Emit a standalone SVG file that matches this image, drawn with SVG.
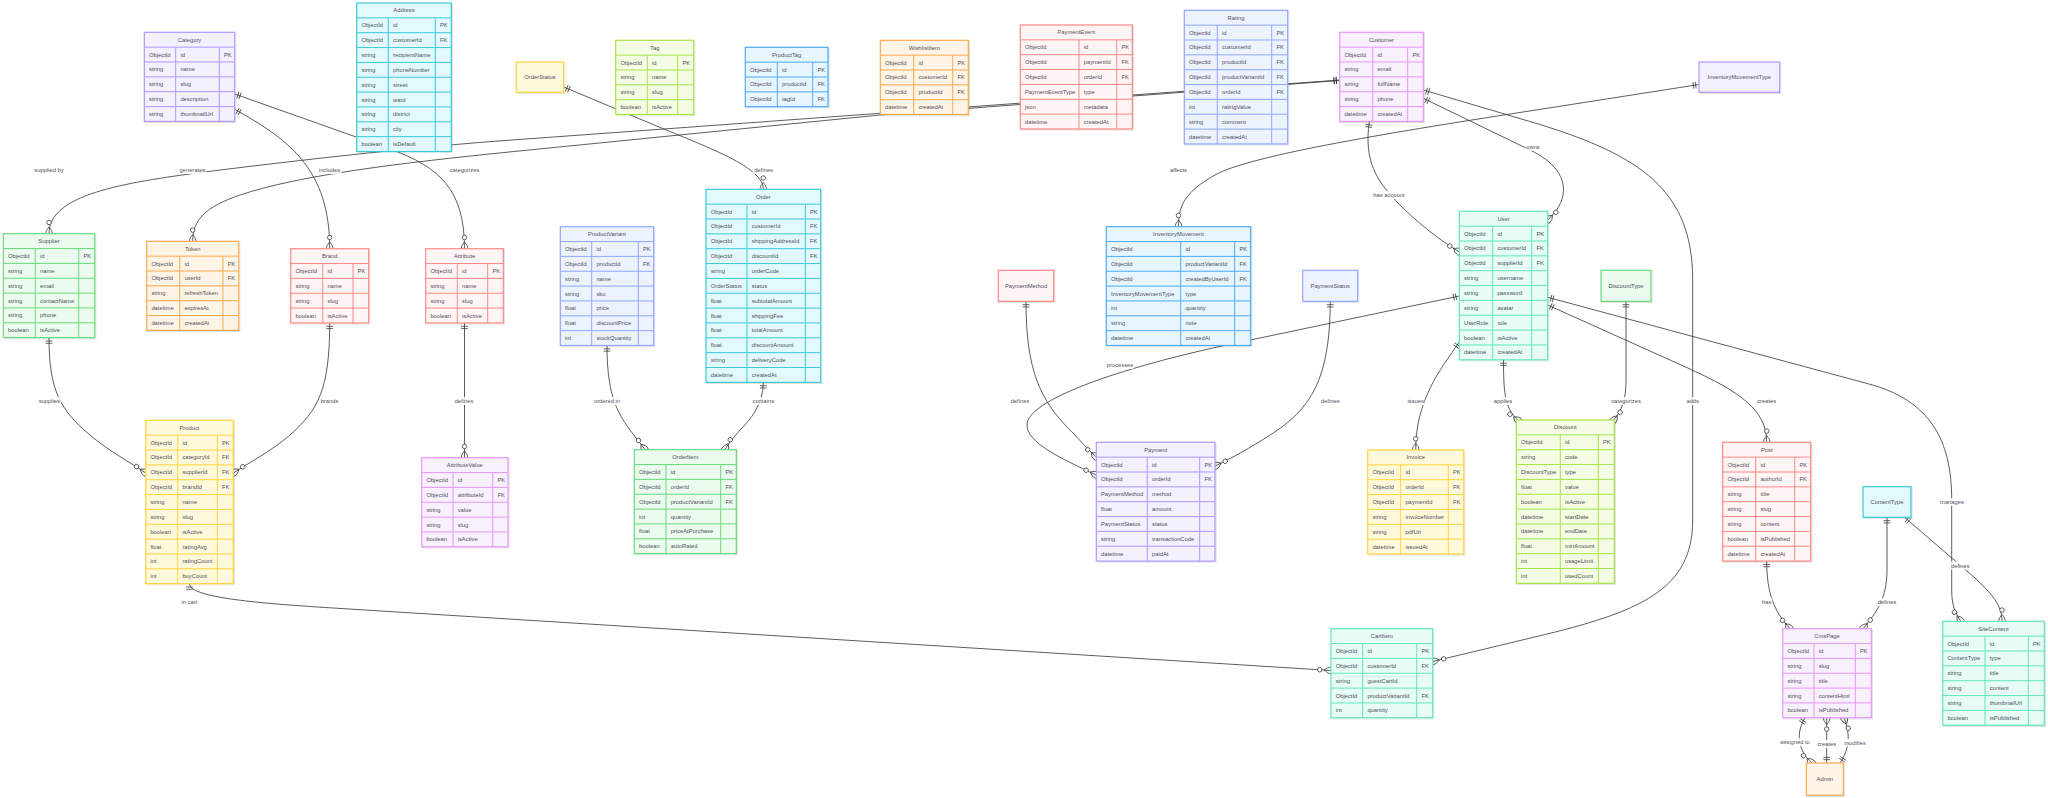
<svg xmlns="http://www.w3.org/2000/svg" width="2048" height="798" viewBox="0 0 2048 798">
<style>
.e text{font-family:"Liberation Sans",Arial,sans-serif;font-size:5.8px;fill:#4f4f5c;dominant-baseline:central}
.e .h{text-anchor:middle}
.e rect{stroke-width:1.2;filter:url(#sh)}
.e path{fill:none;stroke-width:1}
.purple rect{fill:#f3f0ff}.purple rect,.purple path{stroke:#b197fc}
.cyan rect{fill:#e3fafc}.cyan rect,.cyan path{stroke:#3bc9db}
.green rect{fill:#ebfbee}.green rect,.green path{stroke:#69db7c}
.orange rect{fill:#fff4e6}.orange rect,.orange path{stroke:#ffa94d}
.red rect{fill:#fff5f5}.red rect,.red path{stroke:#ff8787}
.yellow rect{fill:#fff9db}.yellow rect,.yellow path{stroke:#ffd43b}
.lime rect{fill:#f4fce3}.lime rect,.lime path{stroke:#a9e34b}
.blue rect{fill:#e7f5ff}.blue rect,.blue path{stroke:#4dabf7}
.indigo rect{fill:#edf2ff}.indigo rect,.indigo path{stroke:#91a7ff}
.grape rect{fill:#f8f0fc}.grape rect,.grape path{stroke:#e599f7}
.teal rect{fill:#e6fcf5}.teal rect,.teal path{stroke:#63e6be}
#connectors path{fill:none;stroke:#333;stroke-width:0.8;marker-start:url(#oneS);marker-end:url(#manyE)}
#connectors text{font-family:"Liberation Sans",Arial,sans-serif;font-size:5.8px;fill:#4f4f5c;text-anchor:middle;dominant-baseline:central}
#connectors rect{fill:#fff;opacity:0.85}
.mk{fill:none;stroke:#333;stroke-width:2}
</style>
<defs>
<filter id="sh" x="-10%" y="-10%" width="125%" height="125%"><feDropShadow dx="1" dy="1" stdDeviation="0.7" flood-color="#000" flood-opacity="0.12"/></filter>
<marker id="oneS" viewBox="0 0 18 18" refX="0" refY="9" markerWidth="6.75" markerHeight="6.75" orient="auto" markerUnits="userSpaceOnUse" overflow="visible"><path class="mk" d="M9,0L9,18M15,0L15,18"/></marker>
<marker id="manyE" viewBox="0 0 57 36" refX="39" refY="18" markerWidth="21.375" markerHeight="13.5" orient="auto" markerUnits="userSpaceOnUse" overflow="visible"><circle cx="9" cy="18" r="6" fill="#fff" stroke="#333" stroke-width="2"/><path class="mk" d="M21,18Q39,0 57,18Q39,36 21,18"/></marker>
</defs>
<rect width="2048" height="798" fill="#fff"/>
<g id="connectors">
<path d="M1339.7,80L512,140C420,146.5 300,160 206.7,171.7C120,183 49,195 49,233.7"/>
<path d="M1339.7,80.5L880,115L512,151.7C400,163 300,175 240,195C205,207 192.7,220 192.7,241.3"/>
<path d="M234.7,109.3C290,140 329.7,170 329.7,248.7"/>
<path d="M234.7,94L390,149C440,167 464.5,190 464.5,248.7"/>
<path d="M563.7,87L640,119C700,145 763.3,165 763.3,189.3"/>
<path d="M1699,84.5L1536,110C1400,131 1250,155 1215,175C1185,192 1178.5,205 1178.5,226.7"/>
<path d="M1369.3,121.4C1364,160 1375,180 1400,205C1420,225 1440,240 1459.3,252"/>
<path d="M1423.3,98.3L1530,150C1555,162 1566,178 1563,195C1561,206 1554,214 1547.7,220"/>
<path d="M1423.3,90L1536,123.3C1640,155 1692.7,190 1692.7,280L1692.7,520C1692.7,590 1640,612 1536,636.7L1432.7,661.5"/>
<path d="M189.5,583.65C189.5,597 250,602.8 333,608L1331,670.5"/>
<path d="M49,337.65C49,390 60,410 90,435C110,452 130,462 145.7,473"/>
<path d="M329.7,322.95C329.7,390 318,410 290,435C270,452 250,462 233.3,473"/>
<path d="M464.5,322.95L464.5,457.7"/>
<path d="M607,345.5C607,390 615,410 630,430C636,438 641,444 645,449.7"/>
<path d="M763.3,382.35C763.3,405 750,420 740,430C733,438 728,444 725,449.7"/>
<path d="M1026,301.3C1026,370 1040,400 1070,430C1080,440 1088,450 1096.3,457"/>
<path d="M1459.3,296L1222,346C1130,366 1040,395 1028,420C1020,440 1060,458 1096.3,475"/>
<path d="M1330.2,301.3C1330.2,380 1310,410 1270,435C1250,448 1232,458 1215,466"/>
<path d="M1459.3,342C1440,370 1415.7,400 1415.7,450"/>
<path d="M1503.5,359.8C1503.5,390 1505,400 1510,410C1512,414 1515,418 1519,421"/>
<path d="M1626,301.3L1626,380C1626,400 1622,410 1613,421"/>
<path d="M1547.7,305L1690,369C1740,392 1766.7,410 1766.7,442.3"/>
<path d="M1547.7,297.3L1869,384C1930,400.5 1951.7,440 1951.7,500L1951.7,590C1951.7,605 1955,613 1961,621.3"/>
<path d="M1887,517.3L1887,570C1887,598 1877,612 1863,628.7"/>
<path d="M1904.5,517.3L1975,578C1992,594 2002,605 2002,621.3"/>
<path d="M1766.7,561.1C1766.7,595 1775,612 1790,628.7"/>
<path d="M1805,717.8C1796,732 1797,750 1812,763"/>
<path d="M1826.7,763L1826.7,717.8"/>
<path d="M1840,763C1849,750 1851,735 1844,717.8"/>
<rect x="32" y="166" width="34" height="8"/><text x="49" y="170">supplied by</text>
<rect x="178.5" y="166" width="28" height="8"/><text x="192.5" y="170">generates</text>
<rect x="317.5" y="166" width="24" height="8"/><text x="329.5" y="170">includes</text>
<rect x="448.5" y="166" width="32" height="8"/><text x="464.5" y="170">categorizes</text>
<rect x="753" y="166" width="21" height="8"/><text x="763.5" y="170">defines</text>
<rect x="1168.5" y="166" width="20" height="8"/><text x="1178.5" y="170">affects</text>
<rect x="1372.5" y="191" width="33" height="8"/><text x="1389" y="195">has account</text>
<rect x="1526" y="143" width="14" height="8"/><text x="1533" y="147">owns</text>
<rect x="1686.2" y="397" width="13" height="8"/><text x="1692.7" y="401">adds</text>
<rect x="37.8" y="397" width="23" height="8"/><text x="49.3" y="401">supplies</text>
<rect x="320" y="397" width="19" height="8"/><text x="329.5" y="401">brands</text>
<rect x="453.5" y="397" width="21" height="8"/><text x="464" y="401">defines</text>
<rect x="593" y="397" width="28" height="8"/><text x="607" y="401">ordered in</text>
<rect x="751.8" y="397" width="23" height="8"/><text x="763.3" y="401">contains</text>
<rect x="1009.5" y="397" width="21" height="8"/><text x="1020" y="401">defines</text>
<rect x="1106.5" y="361" width="27" height="8"/><text x="1120" y="365">processes</text>
<rect x="1319.7" y="397" width="21" height="8"/><text x="1330.2" y="401">defines</text>
<rect x="1407.2" y="397" width="17" height="8"/><text x="1415.7" y="401">issues</text>
<rect x="1493" y="397" width="20" height="8"/><text x="1503" y="401">applies</text>
<rect x="1610" y="397" width="32" height="8"/><text x="1626" y="401">categorizes</text>
<rect x="1756.2" y="397" width="21" height="8"/><text x="1766.7" y="401">creates</text>
<rect x="1940.5" y="498" width="23" height="8"/><text x="1952" y="502">manages</text>
<rect x="180.3" y="598.3" width="18" height="8"/><text x="189.3" y="602.3">in cart</text>
<rect x="1761.2" y="598.3" width="11" height="8"/><text x="1766.7" y="602.3">has</text>
<rect x="1876.5" y="598.3" width="21" height="8"/><text x="1887" y="602.3">defines</text>
<rect x="1949.8" y="561.7" width="21" height="8"/><text x="1960.3" y="565.7">defines</text>
<rect x="1779.5" y="738.3" width="31" height="8"/><text x="1795" y="742.3">assigned to</text>
<rect x="1816.2" y="740" width="21" height="8"/><text x="1826.7" y="744">creates</text>
<rect x="1843.5" y="738.7" width="23" height="8"/><text x="1855" y="742.7">modifies</text>
</g>
<g id="Category" class="e purple">
<rect x="144.3" y="32.3" width="90.4" height="89.1"/>
<path d="M144.3,47.15H234.7M144.3,62H234.7M144.3,76.85H234.7M144.3,91.7H234.7M144.3,106.55H234.7M175.7,47.15V121.4M219.3,47.15V121.4"/>
<text class="h" x="189.5" y="39.73">Category</text>
<text x="149" y="54.58">ObjectId</text><text x="180.4" y="54.58">id</text><text x="224" y="54.58">PK</text>
<text x="149" y="69.43">string</text><text x="180.4" y="69.43">name</text>
<text x="149" y="84.28">string</text><text x="180.4" y="84.28">slug</text>
<text x="149" y="99.13">string</text><text x="180.4" y="99.13">description</text>
<text x="149" y="113.98">string</text><text x="180.4" y="113.98">thumbnailUrl</text>
</g>
<g id="Address" class="e cyan">
<rect x="356.7" y="3" width="94.6" height="148.5"/>
<path d="M356.7,17.85H451.3M356.7,32.7H451.3M356.7,47.55H451.3M356.7,62.4H451.3M356.7,77.25H451.3M356.7,92.1H451.3M356.7,106.95H451.3M356.7,121.8H451.3M356.7,136.65H451.3M388.3,17.85V151.5M435.3,17.85V151.5"/>
<text class="h" x="404" y="10.43">Address</text>
<text x="361.4" y="25.28">ObjectId</text><text x="393" y="25.28">id</text><text x="440" y="25.28">PK</text>
<text x="361.4" y="40.13">ObjectId</text><text x="393" y="40.13">customerId</text><text x="440" y="40.13">FK</text>
<text x="361.4" y="54.98">string</text><text x="393" y="54.98">recipientName</text>
<text x="361.4" y="69.83">string</text><text x="393" y="69.83">phoneNumber</text>
<text x="361.4" y="84.68">string</text><text x="393" y="84.68">street</text>
<text x="361.4" y="99.53">string</text><text x="393" y="99.53">ward</text>
<text x="361.4" y="114.38">string</text><text x="393" y="114.38">district</text>
<text x="361.4" y="129.23">string</text><text x="393" y="129.23">city</text>
<text x="361.4" y="144.08">boolean</text><text x="393" y="144.08">isDefault</text>
</g>
<g id="Supplier" class="e green">
<rect x="3.3" y="233.7" width="91.4" height="103.95"/>
<path d="M3.3,248.55H94.7M3.3,263.4H94.7M3.3,278.25H94.7M3.3,293.1H94.7M3.3,307.95H94.7M3.3,322.8H94.7M35.3,248.55V337.65M78.7,248.55V337.65"/>
<text class="h" x="49" y="241.13">Supplier</text>
<text x="8" y="255.98">ObjectId</text><text x="40" y="255.98">id</text><text x="83.4" y="255.98">PK</text>
<text x="8" y="270.83">string</text><text x="40" y="270.83">name</text>
<text x="8" y="285.68">string</text><text x="40" y="285.68">email</text>
<text x="8" y="300.53">string</text><text x="40" y="300.53">contactName</text>
<text x="8" y="315.38">string</text><text x="40" y="315.38">phone</text>
<text x="8" y="330.23">boolean</text><text x="40" y="330.23">isActive</text>
</g>
<g id="Token" class="e orange">
<rect x="146.7" y="241.3" width="92" height="89.1"/>
<path d="M146.7,256.15H238.7M146.7,271H238.7M146.7,285.85H238.7M146.7,300.7H238.7M146.7,315.55H238.7M179.7,256.15V330.4M223,256.15V330.4"/>
<text class="h" x="192.7" y="248.73">Token</text>
<text x="151.4" y="263.58">ObjectId</text><text x="184.4" y="263.58">id</text><text x="227.7" y="263.58">PK</text>
<text x="151.4" y="278.43">ObjectId</text><text x="184.4" y="278.43">userId</text><text x="227.7" y="278.43">FK</text>
<text x="151.4" y="293.28">string</text><text x="184.4" y="293.28">refreshToken</text>
<text x="151.4" y="308.13">datetime</text><text x="184.4" y="308.13">expiresAt</text>
<text x="151.4" y="322.98">datetime</text><text x="184.4" y="322.98">createdAt</text>
</g>
<g id="Brand" class="e red">
<rect x="290.7" y="248.7" width="78" height="74.25"/>
<path d="M290.7,263.55H368.7M290.7,278.4H368.7M290.7,293.25H368.7M290.7,308.1H368.7M322.7,263.55V322.95M353,263.55V322.95"/>
<text class="h" x="329.7" y="256.13">Brand</text>
<text x="295.4" y="270.98">ObjectId</text><text x="327.4" y="270.98">id</text><text x="357.7" y="270.98">PK</text>
<text x="295.4" y="285.83">string</text><text x="327.4" y="285.83">name</text>
<text x="295.4" y="300.68">string</text><text x="327.4" y="300.68">slug</text>
<text x="295.4" y="315.53">boolean</text><text x="327.4" y="315.53">isActive</text>
</g>
<g id="Attribute" class="e red">
<rect x="425.7" y="248.7" width="77.6" height="74.25"/>
<path d="M425.7,263.55H503.3M425.7,278.4H503.3M425.7,293.25H503.3M425.7,308.1H503.3M457.3,263.55V322.95M487.7,263.55V322.95"/>
<text class="h" x="464.5" y="256.13">Attribute</text>
<text x="430.4" y="270.98">ObjectId</text><text x="462" y="270.98">id</text><text x="492.4" y="270.98">PK</text>
<text x="430.4" y="285.83">string</text><text x="462" y="285.83">name</text>
<text x="430.4" y="300.68">string</text><text x="462" y="300.68">slug</text>
<text x="430.4" y="315.53">boolean</text><text x="462" y="315.53">isActive</text>
</g>
<g id="OrderStatus" class="e yellow">
<rect x="516.3" y="62" width="47.4" height="30.3"/>
<text class="h" x="540" y="77.15">OrderStatus</text>
</g>
<g id="Tag" class="e lime">
<rect x="615.7" y="40.3" width="78" height="74.25"/>
<path d="M615.7,55.15H693.7M615.7,70H693.7M615.7,84.85H693.7M615.7,99.7H693.7M647.3,55.15V114.55M677.7,55.15V114.55"/>
<text class="h" x="654.7" y="47.73">Tag</text>
<text x="620.4" y="62.58">ObjectId</text><text x="652" y="62.58">id</text><text x="682.4" y="62.58">PK</text>
<text x="620.4" y="77.43">string</text><text x="652" y="77.43">name</text>
<text x="620.4" y="92.28">string</text><text x="652" y="92.28">slug</text>
<text x="620.4" y="107.13">boolean</text><text x="652" y="107.13">isActive</text>
</g>
<g id="ProductTag" class="e blue">
<rect x="745.3" y="47.3" width="82.7" height="59.4"/>
<path d="M745.3,62.15H828M745.3,77H828M745.3,91.85H828M777.3,62.15V106.7M812.7,62.15V106.7"/>
<text class="h" x="786.65" y="54.73">ProductTag</text>
<text x="750" y="69.58">ObjectId</text><text x="782" y="69.58">id</text><text x="817.4" y="69.58">PK</text>
<text x="750" y="84.43">ObjectId</text><text x="782" y="84.43">productId</text><text x="817.4" y="84.43">FK</text>
<text x="750" y="99.28">ObjectId</text><text x="782" y="99.28">tagId</text><text x="817.4" y="99.28">FK</text>
</g>
<g id="WishlistItem" class="e orange">
<rect x="880.3" y="40.3" width="88" height="74.25"/>
<path d="M880.3,55.15H968.3M880.3,70H968.3M880.3,84.85H968.3M880.3,99.7H968.3M913.7,55.15V114.55M952.7,55.15V114.55"/>
<text class="h" x="924.3" y="47.73">WishlistItem</text>
<text x="885" y="62.58">ObjectId</text><text x="918.4" y="62.58">id</text><text x="957.4" y="62.58">PK</text>
<text x="885" y="77.43">ObjectId</text><text x="918.4" y="77.43">customerId</text><text x="957.4" y="77.43">FK</text>
<text x="885" y="92.28">ObjectId</text><text x="918.4" y="92.28">productId</text><text x="957.4" y="92.28">FK</text>
<text x="885" y="107.13">datetime</text><text x="918.4" y="107.13">createdAt</text>
</g>
<g id="PaymentEvent" class="e red">
<rect x="1020.3" y="25" width="112" height="103.95"/>
<path d="M1020.3,39.85H1132.3M1020.3,54.7H1132.3M1020.3,69.55H1132.3M1020.3,84.4H1132.3M1020.3,99.25H1132.3M1020.3,114.1H1132.3M1079,39.85V128.95M1116.7,39.85V128.95"/>
<text class="h" x="1076.3" y="32.43">PaymentEvent</text>
<text x="1025" y="47.28">ObjectId</text><text x="1083.7" y="47.28">id</text><text x="1121.4" y="47.28">PK</text>
<text x="1025" y="62.13">ObjectId</text><text x="1083.7" y="62.13">paymentId</text><text x="1121.4" y="62.13">FK</text>
<text x="1025" y="76.98">ObjectId</text><text x="1083.7" y="76.98">orderId</text><text x="1121.4" y="76.98">FK</text>
<text x="1025" y="91.83">PaymentEventType</text><text x="1083.7" y="91.83">type</text>
<text x="1025" y="106.68">json</text><text x="1083.7" y="106.68">metadata</text>
<text x="1025" y="121.53">datetime</text><text x="1083.7" y="121.53">createdAt</text>
</g>
<g id="Rating" class="e indigo">
<rect x="1184.3" y="10.3" width="103.4" height="133.65"/>
<path d="M1184.3,25.15H1287.7M1184.3,40H1287.7M1184.3,54.85H1287.7M1184.3,69.7H1287.7M1184.3,84.55H1287.7M1184.3,99.4H1287.7M1184.3,114.25H1287.7M1184.3,129.1H1287.7M1217.3,25.15V143.95M1271.7,25.15V143.95"/>
<text class="h" x="1236" y="17.73">Rating</text>
<text x="1189" y="32.58">ObjectId</text><text x="1222" y="32.58">id</text><text x="1276.4" y="32.58">PK</text>
<text x="1189" y="47.43">ObjectId</text><text x="1222" y="47.43">customerId</text><text x="1276.4" y="47.43">FK</text>
<text x="1189" y="62.28">ObjectId</text><text x="1222" y="62.28">productId</text><text x="1276.4" y="62.28">FK</text>
<text x="1189" y="77.13">ObjectId</text><text x="1222" y="77.13">productVariantId</text><text x="1276.4" y="77.13">FK</text>
<text x="1189" y="91.98">ObjectId</text><text x="1222" y="91.98">orderId</text><text x="1276.4" y="91.98">FK</text>
<text x="1189" y="106.83">int</text><text x="1222" y="106.83">ratingValue</text>
<text x="1189" y="121.68">string</text><text x="1222" y="121.68">comment</text>
<text x="1189" y="136.53">datetime</text><text x="1222" y="136.53">createdAt</text>
</g>
<g id="Customer" class="e grape">
<rect x="1339.7" y="32.3" width="83.6" height="89.1"/>
<path d="M1339.7,47.15H1423.3M1339.7,62H1423.3M1339.7,76.85H1423.3M1339.7,91.7H1423.3M1339.7,106.55H1423.3M1372.7,47.15V121.4M1407.7,47.15V121.4"/>
<text class="h" x="1381.5" y="39.73">Customer</text>
<text x="1344.4" y="54.58">ObjectId</text><text x="1377.4" y="54.58">id</text><text x="1412.4" y="54.58">PK</text>
<text x="1344.4" y="69.43">string</text><text x="1377.4" y="69.43">email</text>
<text x="1344.4" y="84.28">string</text><text x="1377.4" y="84.28">fullName</text>
<text x="1344.4" y="99.13">string</text><text x="1377.4" y="99.13">phone</text>
<text x="1344.4" y="113.98">datetime</text><text x="1377.4" y="113.98">createdAt</text>
</g>
<g id="InventoryMovementType" class="e purple">
<rect x="1699" y="62" width="80.7" height="30.3"/>
<text class="h" x="1739.35" y="77.15">InventoryMovementType</text>
</g>
<g id="Order" class="e cyan">
<rect x="706" y="189.3" width="114.7" height="193.05"/>
<path d="M706,204.15H820.7M706,219H820.7M706,233.85H820.7M706,248.7H820.7M706,263.55H820.7M706,278.4H820.7M706,293.25H820.7M706,308.1H820.7M706,322.95H820.7M706,337.8H820.7M706,352.65H820.7M706,367.5H820.7M747,204.15V382.35M805.3,204.15V382.35"/>
<text class="h" x="763.35" y="196.73">Order</text>
<text x="710.7" y="211.58">ObjectId</text><text x="751.7" y="211.58">id</text><text x="810" y="211.58">PK</text>
<text x="710.7" y="226.43">ObjectId</text><text x="751.7" y="226.43">customerId</text><text x="810" y="226.43">FK</text>
<text x="710.7" y="241.28">ObjectId</text><text x="751.7" y="241.28">shippingAddressId</text><text x="810" y="241.28">FK</text>
<text x="710.7" y="256.13">ObjectId</text><text x="751.7" y="256.13">discountId</text><text x="810" y="256.13">FK</text>
<text x="710.7" y="270.98">string</text><text x="751.7" y="270.98">orderCode</text>
<text x="710.7" y="285.83">OrderStatus</text><text x="751.7" y="285.83">status</text>
<text x="710.7" y="300.68">float</text><text x="751.7" y="300.68">subtotalAmount</text>
<text x="710.7" y="315.53">float</text><text x="751.7" y="315.53">shippingFee</text>
<text x="710.7" y="330.38">float</text><text x="751.7" y="330.38">totalAmount</text>
<text x="710.7" y="345.23">float</text><text x="751.7" y="345.23">discountAmount</text>
<text x="710.7" y="360.08">string</text><text x="751.7" y="360.08">deliveryCode</text>
<text x="710.7" y="374.93">datetime</text><text x="751.7" y="374.93">createdAt</text>
</g>
<g id="ProductVariant" class="e indigo">
<rect x="560.3" y="226.7" width="93.4" height="118.8"/>
<path d="M560.3,241.55H653.7M560.3,256.4H653.7M560.3,271.25H653.7M560.3,286.1H653.7M560.3,300.95H653.7M560.3,315.8H653.7M560.3,330.65H653.7M591.7,241.55V345.5M638.3,241.55V345.5"/>
<text class="h" x="607" y="234.13">ProductVariant</text>
<text x="565" y="248.98">ObjectId</text><text x="596.4" y="248.98">id</text><text x="643" y="248.98">PK</text>
<text x="565" y="263.83">ObjectId</text><text x="596.4" y="263.83">productId</text><text x="643" y="263.83">FK</text>
<text x="565" y="278.68">string</text><text x="596.4" y="278.68">name</text>
<text x="565" y="293.53">string</text><text x="596.4" y="293.53">sku</text>
<text x="565" y="308.38">float</text><text x="596.4" y="308.38">price</text>
<text x="565" y="323.23">float</text><text x="596.4" y="323.23">discountPrice</text>
<text x="565" y="338.08">int</text><text x="596.4" y="338.08">stockQuantity</text>
</g>
<g id="InventoryMovement" class="e blue">
<rect x="1106.3" y="226.7" width="144.4" height="118.8"/>
<path d="M1106.3,241.55H1250.7M1106.3,256.4H1250.7M1106.3,271.25H1250.7M1106.3,286.1H1250.7M1106.3,300.95H1250.7M1106.3,315.8H1250.7M1106.3,330.65H1250.7M1180.7,241.55V345.5M1234.7,241.55V345.5"/>
<text class="h" x="1178.5" y="234.13">InventoryMovement</text>
<text x="1111" y="248.98">ObjectId</text><text x="1185.4" y="248.98">id</text><text x="1239.4" y="248.98">PK</text>
<text x="1111" y="263.83">ObjectId</text><text x="1185.4" y="263.83">productVariantId</text><text x="1239.4" y="263.83">FK</text>
<text x="1111" y="278.68">ObjectId</text><text x="1185.4" y="278.68">createdByUserId</text><text x="1239.4" y="278.68">FK</text>
<text x="1111" y="293.53">InventoryMovementType</text><text x="1185.4" y="293.53">type</text>
<text x="1111" y="308.38">int</text><text x="1185.4" y="308.38">quantity</text>
<text x="1111" y="323.23">string</text><text x="1185.4" y="323.23">note</text>
<text x="1111" y="338.08">datetime</text><text x="1185.4" y="338.08">createdAt</text>
</g>
<g id="User" class="e teal">
<rect x="1459.3" y="211.3" width="88.4" height="148.5"/>
<path d="M1459.3,226.15H1547.7M1459.3,241H1547.7M1459.3,255.85H1547.7M1459.3,270.7H1547.7M1459.3,285.55H1547.7M1459.3,300.4H1547.7M1459.3,315.25H1547.7M1459.3,330.1H1547.7M1459.3,344.95H1547.7M1492.7,226.15V359.8M1531.7,226.15V359.8"/>
<text class="h" x="1503.5" y="218.73">User</text>
<text x="1464" y="233.58">ObjectId</text><text x="1497.4" y="233.58">id</text><text x="1536.4" y="233.58">PK</text>
<text x="1464" y="248.43">ObjectId</text><text x="1497.4" y="248.43">customerId</text><text x="1536.4" y="248.43">FK</text>
<text x="1464" y="263.28">ObjectId</text><text x="1497.4" y="263.28">supplierId</text><text x="1536.4" y="263.28">FK</text>
<text x="1464" y="278.13">string</text><text x="1497.4" y="278.13">username</text>
<text x="1464" y="292.98">string</text><text x="1497.4" y="292.98">password</text>
<text x="1464" y="307.83">string</text><text x="1497.4" y="307.83">avatar</text>
<text x="1464" y="322.68">UserRole</text><text x="1497.4" y="322.68">role</text>
<text x="1464" y="337.53">boolean</text><text x="1497.4" y="337.53">isActive</text>
<text x="1464" y="352.38">datetime</text><text x="1497.4" y="352.38">createdAt</text>
</g>
<g id="PaymentMethod" class="e red">
<rect x="998.3" y="270.3" width="55.4" height="31"/>
<text class="h" x="1026" y="285.8">PaymentMethod</text>
</g>
<g id="PaymentStatus" class="e indigo">
<rect x="1302.7" y="270.3" width="55" height="31"/>
<text class="h" x="1330.2" y="285.8">PaymentStatus</text>
</g>
<g id="DiscountType" class="e green">
<rect x="1601" y="270.3" width="50" height="31"/>
<text class="h" x="1626" y="285.8">DiscountType</text>
</g>
<g id="Product" class="e yellow">
<rect x="145.7" y="420.3" width="87.6" height="163.35"/>
<path d="M145.7,435.15H233.3M145.7,450H233.3M145.7,464.85H233.3M145.7,479.7H233.3M145.7,494.55H233.3M145.7,509.4H233.3M145.7,524.25H233.3M145.7,539.1H233.3M145.7,553.95H233.3M145.7,568.8H233.3M177.7,435.15V583.65M217.3,435.15V583.65"/>
<text class="h" x="189.5" y="427.73">Product</text>
<text x="150.4" y="442.58">ObjectId</text><text x="182.4" y="442.58">id</text><text x="222" y="442.58">PK</text>
<text x="150.4" y="457.43">ObjectId</text><text x="182.4" y="457.43">categoryId</text><text x="222" y="457.43">FK</text>
<text x="150.4" y="472.28">ObjectId</text><text x="182.4" y="472.28">supplierId</text><text x="222" y="472.28">FK</text>
<text x="150.4" y="487.13">ObjectId</text><text x="182.4" y="487.13">brandId</text><text x="222" y="487.13">FK</text>
<text x="150.4" y="501.98">string</text><text x="182.4" y="501.98">name</text>
<text x="150.4" y="516.83">string</text><text x="182.4" y="516.83">slug</text>
<text x="150.4" y="531.68">boolean</text><text x="182.4" y="531.68">isActive</text>
<text x="150.4" y="546.53">float</text><text x="182.4" y="546.53">ratingAvg</text>
<text x="150.4" y="561.38">int</text><text x="182.4" y="561.38">ratingCount</text>
<text x="150.4" y="576.23">int</text><text x="182.4" y="576.23">buyCount</text>
</g>
<g id="AttributeValue" class="e grape">
<rect x="421.7" y="457.7" width="86.3" height="89.1"/>
<path d="M421.7,472.55H508M421.7,487.4H508M421.7,502.25H508M421.7,517.1H508M421.7,531.95H508M453,472.55V546.8M492.7,472.55V546.8"/>
<text class="h" x="464.85" y="465.13">AttributeValue</text>
<text x="426.4" y="479.98">ObjectId</text><text x="457.7" y="479.98">id</text><text x="497.4" y="479.98">PK</text>
<text x="426.4" y="494.83">ObjectId</text><text x="457.7" y="494.83">attributeId</text><text x="497.4" y="494.83">FK</text>
<text x="426.4" y="509.68">string</text><text x="457.7" y="509.68">value</text>
<text x="426.4" y="524.53">string</text><text x="457.7" y="524.53">slug</text>
<text x="426.4" y="539.38">boolean</text><text x="457.7" y="539.38">isActive</text>
</g>
<g id="OrderItem" class="e green">
<rect x="634.3" y="449.7" width="102" height="103.95"/>
<path d="M634.3,464.55H736.3M634.3,479.4H736.3M634.3,494.25H736.3M634.3,509.1H736.3M634.3,523.95H736.3M634.3,538.8H736.3M666,464.55V553.65M720.7,464.55V553.65"/>
<text class="h" x="685.3" y="457.13">OrderItem</text>
<text x="639" y="471.98">ObjectId</text><text x="670.7" y="471.98">id</text><text x="725.4" y="471.98">PK</text>
<text x="639" y="486.83">ObjectId</text><text x="670.7" y="486.83">orderId</text><text x="725.4" y="486.83">FK</text>
<text x="639" y="501.68">ObjectId</text><text x="670.7" y="501.68">productVariantId</text><text x="725.4" y="501.68">FK</text>
<text x="639" y="516.53">int</text><text x="670.7" y="516.53">quantity</text>
<text x="639" y="531.38">float</text><text x="670.7" y="531.38">priceAtPurchase</text>
<text x="639" y="546.23">boolean</text><text x="670.7" y="546.23">autoRated</text>
</g>
<g id="Payment" class="e purple">
<rect x="1096.3" y="442.3" width="118.7" height="118.8"/>
<path d="M1096.3,457.15H1215M1096.3,472H1215M1096.3,486.85H1215M1096.3,501.7H1215M1096.3,516.55H1215M1096.3,531.4H1215M1096.3,546.25H1215M1147.3,457.15V561.1M1199.7,457.15V561.1"/>
<text class="h" x="1155.65" y="449.73">Payment</text>
<text x="1101" y="464.58">ObjectId</text><text x="1152" y="464.58">id</text><text x="1204.4" y="464.58">PK</text>
<text x="1101" y="479.43">ObjectId</text><text x="1152" y="479.43">orderId</text><text x="1204.4" y="479.43">FK</text>
<text x="1101" y="494.28">PaymentMethod</text><text x="1152" y="494.28">method</text>
<text x="1101" y="509.13">float</text><text x="1152" y="509.13">amount</text>
<text x="1101" y="523.98">PaymentStatus</text><text x="1152" y="523.98">status</text>
<text x="1101" y="538.83">string</text><text x="1152" y="538.83">transactionCode</text>
<text x="1101" y="553.68">datetime</text><text x="1152" y="553.68">paidAt</text>
</g>
<g id="Invoice" class="e yellow">
<rect x="1367.7" y="450" width="96" height="103.95"/>
<path d="M1367.7,464.85H1463.7M1367.7,479.7H1463.7M1367.7,494.55H1463.7M1367.7,509.4H1463.7M1367.7,524.25H1463.7M1367.7,539.1H1463.7M1400.7,464.85V553.95M1448.3,464.85V553.95"/>
<text class="h" x="1415.7" y="457.43">Invoice</text>
<text x="1372.4" y="472.28">ObjectId</text><text x="1405.4" y="472.28">id</text><text x="1453" y="472.28">PK</text>
<text x="1372.4" y="487.13">ObjectId</text><text x="1405.4" y="487.13">orderId</text><text x="1453" y="487.13">FK</text>
<text x="1372.4" y="501.98">ObjectId</text><text x="1405.4" y="501.98">paymentId</text><text x="1453" y="501.98">FK</text>
<text x="1372.4" y="516.83">string</text><text x="1405.4" y="516.83">invoiceNumber</text>
<text x="1372.4" y="531.68">string</text><text x="1405.4" y="531.68">pdfUrl</text>
<text x="1372.4" y="546.53">datetime</text><text x="1405.4" y="546.53">issuedAt</text>
</g>
<g id="Discount" class="e lime">
<rect x="1516.3" y="420" width="98" height="163.35"/>
<path d="M1516.3,434.85H1614.3M1516.3,449.7H1614.3M1516.3,464.55H1614.3M1516.3,479.4H1614.3M1516.3,494.25H1614.3M1516.3,509.1H1614.3M1516.3,523.95H1614.3M1516.3,538.8H1614.3M1516.3,553.65H1614.3M1516.3,568.5H1614.3M1560.3,434.85V583.35M1598.3,434.85V583.35"/>
<text class="h" x="1565.3" y="427.43">Discount</text>
<text x="1521" y="442.28">ObjectId</text><text x="1565" y="442.28">id</text><text x="1603" y="442.28">PK</text>
<text x="1521" y="457.13">string</text><text x="1565" y="457.13">code</text>
<text x="1521" y="471.98">DiscountType</text><text x="1565" y="471.98">type</text>
<text x="1521" y="486.83">float</text><text x="1565" y="486.83">value</text>
<text x="1521" y="501.68">boolean</text><text x="1565" y="501.68">isActive</text>
<text x="1521" y="516.53">datetime</text><text x="1565" y="516.53">startDate</text>
<text x="1521" y="531.38">datetime</text><text x="1565" y="531.38">endDate</text>
<text x="1521" y="546.23">float</text><text x="1565" y="546.23">minAmount</text>
<text x="1521" y="561.08">int</text><text x="1565" y="561.08">usageLimit</text>
<text x="1521" y="575.93">int</text><text x="1565" y="575.93">usedCount</text>
</g>
<g id="Post" class="e red">
<rect x="1722.7" y="442.3" width="88" height="118.8"/>
<path d="M1722.7,457.15H1810.7M1722.7,472H1810.7M1722.7,486.85H1810.7M1722.7,501.7H1810.7M1722.7,516.55H1810.7M1722.7,531.4H1810.7M1722.7,546.25H1810.7M1755.7,457.15V561.1M1794.7,457.15V561.1"/>
<text class="h" x="1766.7" y="449.73">Post</text>
<text x="1727.4" y="464.58">ObjectId</text><text x="1760.4" y="464.58">id</text><text x="1799.4" y="464.58">PK</text>
<text x="1727.4" y="479.43">ObjectId</text><text x="1760.4" y="479.43">authorId</text><text x="1799.4" y="479.43">FK</text>
<text x="1727.4" y="494.28">string</text><text x="1760.4" y="494.28">title</text>
<text x="1727.4" y="509.13">string</text><text x="1760.4" y="509.13">slug</text>
<text x="1727.4" y="523.98">string</text><text x="1760.4" y="523.98">content</text>
<text x="1727.4" y="538.83">boolean</text><text x="1760.4" y="538.83">isPublished</text>
<text x="1727.4" y="553.68">datetime</text><text x="1760.4" y="553.68">createdAt</text>
</g>
<g id="ContentType" class="e cyan">
<rect x="1863" y="486.7" width="48" height="30.6"/>
<text class="h" x="1887" y="502">ContentType</text>
</g>
<g id="CartItem" class="e teal">
<rect x="1331" y="628.7" width="101.7" height="89.1"/>
<path d="M1331,643.55H1432.7M1331,658.4H1432.7M1331,673.25H1432.7M1331,688.1H1432.7M1331,702.95H1432.7M1362.7,643.55V717.8M1416.7,643.55V717.8"/>
<text class="h" x="1381.85" y="636.13">CartItem</text>
<text x="1335.7" y="650.98">ObjectId</text><text x="1367.4" y="650.98">id</text><text x="1421.4" y="650.98">PK</text>
<text x="1335.7" y="665.83">ObjectId</text><text x="1367.4" y="665.83">customerId</text><text x="1421.4" y="665.83">FK</text>
<text x="1335.7" y="680.68">string</text><text x="1367.4" y="680.68">guestCartId</text>
<text x="1335.7" y="695.53">ObjectId</text><text x="1367.4" y="695.53">productVariantId</text><text x="1421.4" y="695.53">FK</text>
<text x="1335.7" y="710.38">int</text><text x="1367.4" y="710.38">quantity</text>
</g>
<g id="CmsPage" class="e grape">
<rect x="1782.7" y="628.7" width="88.6" height="89.1"/>
<path d="M1782.7,643.55H1871.3M1782.7,658.4H1871.3M1782.7,673.25H1871.3M1782.7,688.1H1871.3M1782.7,702.95H1871.3M1814,643.55V717.8M1855.3,643.55V717.8"/>
<text class="h" x="1827" y="636.13">CmsPage</text>
<text x="1787.4" y="650.98">ObjectId</text><text x="1818.7" y="650.98">id</text><text x="1860" y="650.98">PK</text>
<text x="1787.4" y="665.83">string</text><text x="1818.7" y="665.83">slug</text>
<text x="1787.4" y="680.68">string</text><text x="1818.7" y="680.68">title</text>
<text x="1787.4" y="695.53">string</text><text x="1818.7" y="695.53">contentHtml</text>
<text x="1787.4" y="710.38">boolean</text><text x="1818.7" y="710.38">isPublished</text>
</g>
<g id="SiteContent" class="e teal">
<rect x="1942.7" y="621.3" width="101.6" height="103.95"/>
<path d="M1942.7,636.15H2044.3M1942.7,651H2044.3M1942.7,665.85H2044.3M1942.7,680.7H2044.3M1942.7,695.55H2044.3M1942.7,710.4H2044.3M1985,636.15V725.25M2028.3,636.15V725.25"/>
<text class="h" x="1993.5" y="628.73">SiteContent</text>
<text x="1947.4" y="643.58">ObjectId</text><text x="1989.7" y="643.58">id</text><text x="2033" y="643.58">PK</text>
<text x="1947.4" y="658.43">ContentType</text><text x="1989.7" y="658.43">type</text>
<text x="1947.4" y="673.28">string</text><text x="1989.7" y="673.28">title</text>
<text x="1947.4" y="688.13">string</text><text x="1989.7" y="688.13">content</text>
<text x="1947.4" y="702.98">string</text><text x="1989.7" y="702.98">thumbnailUrl</text>
<text x="1947.4" y="717.83">boolean</text><text x="1989.7" y="717.83">isPublished</text>
</g>
<g id="Admin" class="e orange">
<rect x="1806.3" y="763" width="37" height="32.3"/>
<text class="h" x="1824.8" y="779.15">Admin</text>
</g>
</svg>
